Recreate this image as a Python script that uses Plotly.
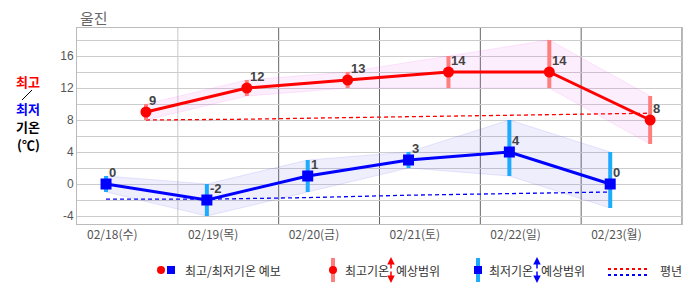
import plotly.graph_objects as go

# ---------------- data ----------------
days = ["02/18(수)", "02/19(목)", "02/20(금)", "02/21(토)", "02/22(일)", "02/23(월)"]
max_temp = [9, 12, 13, 14, 14, 8]
max_hi = [10, 13, 14, 16, 18, 11]
max_lo = [8, 11, 12, 12, 12, 5]
min_temp = [0, -2, 1, 3, 4, 0]
min_hi = [1, 0, 3, 4, 8, 4]
min_lo = [-1, -4, -1, 2, 1, -3]
normal_max = [8.0, 8.1, 8.3, 8.5, 8.7, 8.85]
normal_min = [-1.9, -1.9, -1.7, -1.4, -1.2, -1.0]
yticks = [-4, -2, 0, 2, 4, 6, 8, 10, 12, 14, 16, 18]

# time-of-day offsets within each day slot (min in morning, max in afternoon)
MIN_OFF, MAX_OFF, LABEL_OFF = 0.288, 0.684, 0.35
x_min = [i + MIN_OFF for i in range(len(days))]
x_max = [i + MAX_OFF for i in range(len(days))]
x_lab = [i + LABEL_OFF for i in range(len(days))]

RED = "#ff0000"
BLUE = "#0000ff"
RED_BAR = "#ff7f7f"
BLUE_BAR = "#1eaaff"
FONT = "Noto Sans CJK KR, Liberation Sans, sans-serif"

fig = go.Figure()

# range bands
fig.add_trace(go.Scatter(x=x_max, y=max_lo, mode="lines",
                         line=dict(color="rgba(240,100,240,0.15)", width=1),
                         hoverinfo="skip", showlegend=False))
fig.add_trace(go.Scatter(x=x_max, y=max_hi, mode="lines", fill="tonexty",
                         fillcolor="rgba(240,100,240,0.11)",
                         line=dict(color="rgba(240,100,240,0.15)", width=1),
                         hoverinfo="skip", showlegend=False))
fig.add_trace(go.Scatter(x=x_min, y=min_lo, mode="lines",
                         line=dict(color="rgba(100,100,240,0.15)", width=1),
                         hoverinfo="skip", showlegend=False))
fig.add_trace(go.Scatter(x=x_min, y=min_hi, mode="lines", fill="tonexty",
                         fillcolor="rgba(100,100,240,0.11)",
                         line=dict(color="rgba(100,100,240,0.15)", width=1),
                         hoverinfo="skip", showlegend=False))

# normals
fig.add_trace(go.Scatter(x=x_max, y=normal_max, mode="lines",
                         line=dict(color=RED, width=1.3, dash="4px,3px"),
                         hoverinfo="skip", showlegend=False))
fig.add_trace(go.Scatter(x=x_min, y=normal_min, mode="lines",
                         line=dict(color=BLUE, width=1.3, dash="4px,3px"),
                         hoverinfo="skip", showlegend=False))

# range error bars
fig.add_trace(go.Scatter(
    x=x_max, y=max_temp, mode="markers", marker=dict(size=1, opacity=0),
    error_y=dict(type="data", symmetric=False,
                 array=[h - v for h, v in zip(max_hi, max_temp)],
                 arrayminus=[v - l for v, l in zip(max_temp, max_lo)],
                 color=RED_BAR, thickness=4, width=0),
    hoverinfo="skip", showlegend=False))
fig.add_trace(go.Scatter(
    x=x_min, y=min_temp, mode="markers", marker=dict(size=1, opacity=0),
    error_y=dict(type="data", symmetric=False,
                 array=[h - v for h, v in zip(min_hi, min_temp)],
                 arrayminus=[v - l for v, l in zip(min_temp, min_lo)],
                 color=BLUE_BAR, thickness=4, width=0),
    hoverinfo="skip", showlegend=False))

# main forecast lines
fig.add_trace(go.Scatter(x=x_max, y=max_temp, mode="lines+markers",
                         line=dict(color=RED, width=3),
                         marker=dict(symbol="circle", size=11, color=RED),
                         showlegend=False))
fig.add_trace(go.Scatter(x=x_min, y=min_temp, mode="lines+markers",
                         line=dict(color=BLUE, width=3),
                         marker=dict(symbol="square", size=11, color=BLUE),
                         showlegend=False))

# value labels
for xs, ys in ((x_max, max_temp), (x_min, min_temp)):
    for x, y in zip(xs, ys):
        fig.add_annotation(x=x, y=y, xref="x", yref="y", text=f"<b>{y}</b>",
                           showarrow=False, xanchor="left", yanchor="bottom",
                           xshift=1, yshift=2,
                           font=dict(family="Liberation Sans, Arial", size=13, color="#444444"))

# vertical day separators
shapes = []
for i in range(1, len(days) + 1):
    shapes.append(dict(type="line", xref="x", yref="paper", x0=i, x1=i, y0=0, y1=1,
                       line=dict(color="#c8c8c8" if i == 1 else "#666666", width=1),
                       layer="below"))

W, H = 686, 295
L, R, T, B = 77, 682, 28, 224


def px(x):
    return (x - L) / (R - L)


def py(y):
    return (B - y) / (B - T)


# legend (bottom)
LY = 270
shapes += [
    dict(type="circle", xref="paper", yref="paper", x0=px(157), x1=px(165), y0=py(274), y1=py(266),
         fillcolor=RED, line=dict(width=0)),
    dict(type="rect", xref="paper", yref="paper", x0=px(167), x1=px(175), y0=py(274), y1=py(266),
         fillcolor=BLUE, line=dict(width=0)),
    dict(type="line", xref="paper", yref="paper", x0=px(333), x1=px(333), y0=py(282), y1=py(258),
         line=dict(color=RED_BAR, width=4)),
    dict(type="circle", xref="paper", yref="paper", x0=px(329), x1=px(337), y0=py(274), y1=py(266),
         fillcolor=RED, line=dict(width=0)),
    dict(type="line", xref="paper", yref="paper", x0=px(478), x1=px(478), y0=py(282), y1=py(258),
         line=dict(color=BLUE_BAR, width=4)),
    dict(type="rect", xref="paper", yref="paper", x0=px(474), x1=px(482), y0=py(274), y1=py(266),
         fillcolor=BLUE, line=dict(width=0)),
    dict(type="line", xref="paper", yref="paper", x0=px(608), x1=px(648), y0=py(269), y1=py(269),
         line=dict(color=RED, width=2, dash="dot")),
    dict(type="line", xref="paper", yref="paper", x0=px(608), x1=px(648), y0=py(275), y1=py(275),
         line=dict(color=BLUE, width=2, dash="dot")),
    # slash in left label
    dict(type="line", xref="paper", yref="paper", x0=px(22), x1=px(32), y0=py(100), y1=py(90),
         line=dict(color="#000000", width=1)),
]

ann_font = dict(family=FONT, size=12, color="#333333")
legend_texts = [(183, "최고/최저기온 예보"), (343, "최고기온"), (394, "예상범위"),
                (487, "최저기온"), (539, "예상범위"), (658, "평년")]
for x, t in legend_texts:
    fig.add_annotation(x=px(x), y=py(LY), xref="paper", yref="paper", text=t,
                       showarrow=False, xanchor="left", yanchor="middle", font=ann_font)

for x, col in ((391, RED), (537, BLUE)):
    for head, tail in ((257, 270), (283, 270)):
        fig.add_annotation(x=px(x), y=py(head), xref="paper", yref="paper", text="",
                           showarrow=True, ax=0, ay=tail - head, axref="pixel", ayref="pixel",
                           arrowhead=2, arrowsize=1, arrowwidth=1.5, arrowcolor=col)

# left y label
left_labels = [("최고", RED, 81), ("최저", BLUE, 109), ("기온", "#000000", 127), ("(℃)", "#000000", 144)]
for t, c, y in left_labels:
    fig.add_annotation(x=px(28), y=py(y), xref="paper", yref="paper", text=f"<b>{t}</b>",
                       showarrow=False, xanchor="center", yanchor="middle",
                       font=dict(family=FONT, size=13, color=c))

# title
fig.add_annotation(x=px(78), y=py(17), xref="paper", yref="paper", text="울진",
                   showarrow=False, xanchor="left", yanchor="middle",
                   font=dict(family=FONT, size=15, color="#666666"))

fig.update_layout(
    width=W, height=H,
    margin=dict(l=L, r=W - R, t=T, b=H - B, pad=0),
    paper_bgcolor="white", plot_bgcolor="white",
    font=dict(family=FONT, size=12, color="#555555"),
    shapes=shapes,
    xaxis=dict(range=[0, len(days)], tickvals=x_lab, ticktext=days, showgrid=False,
               zeroline=False, showline=True, linecolor="#bbbbbb", mirror=True,
               ticks="", tickfont=dict(family=FONT, size=12, color="#555555")),
    yaxis=dict(range=[-5, 19.5], tickvals=yticks,
               ticktext=[str(v) if v % 4 == 0 and v != 18 else "" for v in yticks],
               showgrid=True, gridcolor="#cccccc", gridwidth=1, zeroline=False,
               showline=True, linecolor="#bbbbbb", mirror=True, ticks="",
               tickfont=dict(family="Liberation Sans, Arial", size=12, color="#555555")),
    hovermode=False,
)

fig.write_html("out.html")
